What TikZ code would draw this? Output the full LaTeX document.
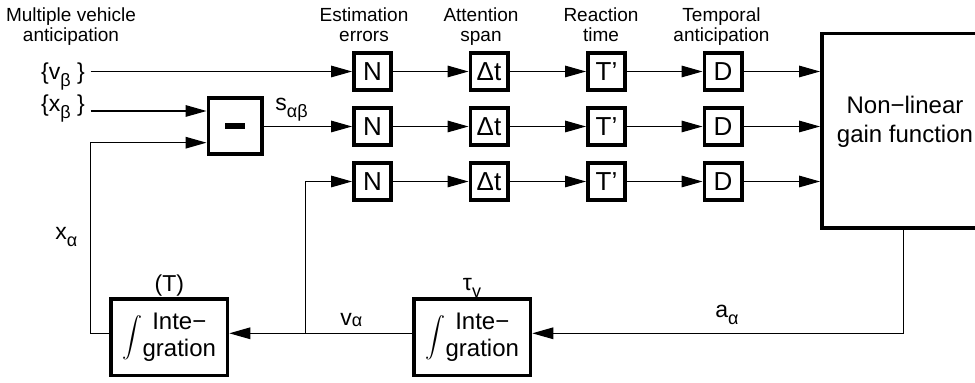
\documentclass[tikz,border=0pt]{standalone}
\usepackage{fontspec}
\setmainfont{Liberation Sans}
\usetikzlibrary{arrows.meta,calc}
\newcommand{\lowsub}[2][-3.3pt]{\raisebox{#1}{\fontsize{9pt}{9pt}\selectfont #2}}% #1 = Absenkung, #2 = Index
\newcommand{\integtext}{$\displaystyle\int$\begin{tabular}{@{}c@{}}Inte−\\gration\end{tabular}}
\tikzset{
  blockbox/.style={draw, line width=1.8pt, inner sep=0pt, minimum width=18.7pt,
    minimum height=18.7pt, font=\fontsize{13pt}{13pt}\selectfont},
  intbox/.style={draw, line width=1.8pt, inner sep=0pt, minimum width=58.2pt,
    minimum height=38.2pt, font=\fontsize{12pt}{13.3pt}\selectfont},
  flow/.style={line width=0.6pt, -{Triangle[length=10.5pt,width=5.8pt]}},
  wire/.style={line width=0.6pt},
  headlabel/.style={align=center, font=\fontsize{9.5pt}{10pt}\selectfont, inner sep=0pt},
  siglabel/.style={font=\fontsize{11.5pt}{11.5pt}\selectfont, inner sep=0pt}
}
\begin{document}
\begin{tikzpicture}[x=0.5pt, y=-0.5pt]
  \useasboundingbox (0,0) rectangle (975,383);
  % Ueberschriften
  \node[headlabel, anchor=north] (lbmulti) at (71,7.8) {Multiple vehicle\\anticipation};
  \node[headlabel, anchor=north] (lberr) at (364,7.8) {Estimation\\errors};
  \node[headlabel, anchor=north] (lbspan) at (481,7.8) {Attention\\span};
  \node[headlabel, anchor=north] (lbreact) at (601,7.8) {Reaction\\time};
  \node[headlabel, anchor=north] (lbtemp) at (721.5,7.8) {Temporal\\anticipation};

  \node[draw, line width=1.8pt, inner sep=0pt, minimum width=84.1pt,
        minimum height=97.35pt] (gain) at (905.9,130.85) {};
  \node[font=\fontsize{12pt}{14.5pt}\selectfont, align=center, inner sep=0pt] (gaintext) at (905,121.5)
        {Non−linear\\gain function};

  \foreach \r/\ry in {1/71.5, 2/126.5, 3/181.5} {
    \node[blockbox] (N\r) at (372.5,\ry) {N};
    \node[blockbox] (dt\r) at (489,\ry) {Δt};
    \node[blockbox] (tp\r) at (606.5,\ry) {T’};
    \node[blockbox] (D\r) at (723,\ry) {D};
    \draw[flow] (N\r) -- (dt\r);
    \draw[flow] (dt\r) -- (tp\r);
    \draw[flow] (tp\r) -- (D\r);
    \draw[flow] (D\r.east) -- (D\r.east -| gain.west);
  }

  \node[blockbox, minimum width=26.7pt, minimum height=28.2pt] (minus) at (235,126) {\rule{10pt}{3pt}};
  \coordinate (minusin1) at ($(minus.west)+(0,-15)$);
  \coordinate (minusin2) at ($(minus.west)+(0,16.7)$);

  \node[intbox] (intT) at (169.3,337.5) {\integtext};
  \node[intbox] (intV) at (472.3,337.5) {\integtext};

  % Eingaenge
  \node[siglabel, anchor=base east, inner xsep=2.8pt] (vbeta) at (90.7,80) {\{v\lowsub{β} \}};
  \node[siglabel, anchor=base east, inner xsep=2.8pt] (xbeta) at (90.7,112) {\{x\lowsub{β} \}};
  \draw[flow] (vbeta.base east |- N1.west) -- (N1.west);
  \draw[flow] (xbeta.base east |- minusin1) -- (minusin1);
  \draw[flow] (minus.east |- N2.west) -- (N2.west);

  % Rueckfuehrung
  \coordinate (abend) at (903.5,333.3);
  \coordinate (xbend) at (90.7,333.3);
  \coordinate (vbranch) at (305.7,333.3);
  \draw[flow] (gain.south -| abend) -- (abend) -- (intV.east |- abend);
  \draw[flow] (intV.west |- abend) -- (intT.east |- abend);
  \draw[flow] (intT.west |- abend) -- (xbend) |- (minusin2);
  \draw[flow] (vbranch) |- (N3.west);

  \node[siglabel, anchor=base west] (sab) at (275,110.7) {s\lowsub{αβ}};
  \node[siglabel, anchor=base west] (xa) at (55,240) {x\lowsub{α}};
  \node[siglabel, anchor=base west] (va) at (340,326) {v\lowsub[-0.5pt]{α}};
  \node[siglabel, anchor=base west] (aa) at (715,318) {a\lowsub{α}};
  \node[siglabel, anchor=base] (tauv) at (472,290.7) {τ\lowsub{v}};
  \node[siglabel, anchor=south, inner sep=0.5pt] (Tlab) at (intT.north) {(T)};
\end{tikzpicture}
\end{document}
